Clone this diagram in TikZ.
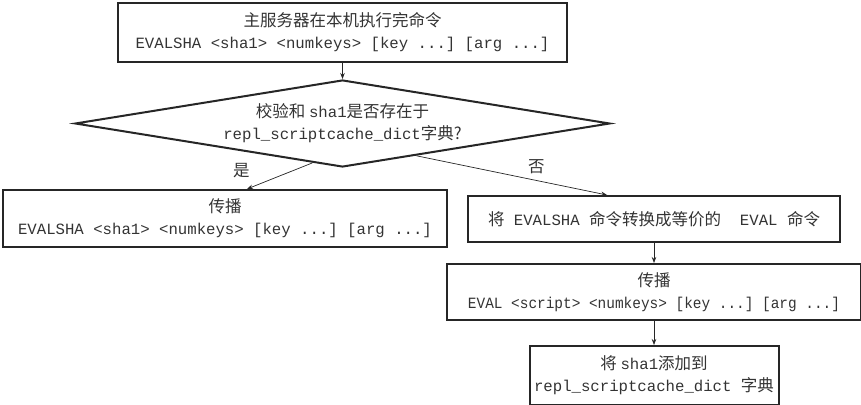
\documentclass[tikz,border=0pt]{standalone}
\usepackage{fontspec}
\setmainfont{Noto Sans CJK SC}
\setmonofont{Liberation Mono}[Scale=0.95]
\usetikzlibrary{positioning,shapes.geometric,arrows.meta,calc}
\begin{document}
\begin{tikzpicture}[x=1pt,y=-1pt,node distance=16pt and 20pt,
font=\fontsize{16.5}{22}\selectfont,
>={Stealth[length=6pt,width=4.5pt]},
square/.style={
% The shape:
rectangle,
draw=black!85,
line width=2pt,
text=black!80,
align=center,
inner sep=0pt
},
decide/.style={
% The shape:
diamond,
aspect=6,
draw=black!85,
line width=2pt,
text=black!80,
align=center,
inner sep=0pt,
minimum width=535pt,
minimum height=87pt
},
link/.style={->,line width=0.7pt,draw=black!85},
answer/.style={text=black!80}
]
\useasboundingbox (0,0) rectangle (861,404);
% Left column:
\node (master) [square,minimum width=449pt,minimum height=59pt] at (342.5,32.5) {主服务器在本机执行完命令\\\texttt{EVALSHA <sha1> <numkeys> [key ...] [arg ...]}};
\node (check) [decide,below=16pt of master] {校验和~\texttt{sha1}是否存在于\\\texttt{repl\_scriptcache\_dict}字典?};
\node (spread) [square,minimum width=444pt,minimum height=57pt] at (225,218.5) {传播\\\texttt{EVALSHA <sha1> <numkeys> [key ...] [arg ...]}};
% Right column:
\node (convert) [square,minimum width=372pt,minimum height=46pt] at (654,219) {将\texttt{~EVALSHA~}命令转换成等价的\texttt{~~EVAL~}命令};
\node (spreadeval) [square,minimum width=414pt,minimum height=56pt,below=20pt of convert] {传播\\\scalebox{0.92}[1]{\texttt{EVAL <script> <numkeys> [key ...] [arg ...]}}};
\node (addsha) [square,minimum width=249pt,minimum height=59pt,below=24pt of spreadeval] {将~\texttt{sha1}添加到\\\texttt{repl\_scriptcache\_dict~}字典};
\path (master) edge[link] (check) (convert) edge[link] (spreadeval) (spreadeval) edge[link] (addsha);
\path ($(check.south)!0.113!(check.west)$) edge[link] node [answer,pos=0.75,above left=1pt and 10pt] {是} ($(spread.north)+(22,0)$);
\path ($(check.south)!0.275!(check.east)$) edge[link] node [answer,pos=0.63,above=3pt] {否} ($(convert.north)+(-47,0)$);
\end{tikzpicture}
\end{document}
